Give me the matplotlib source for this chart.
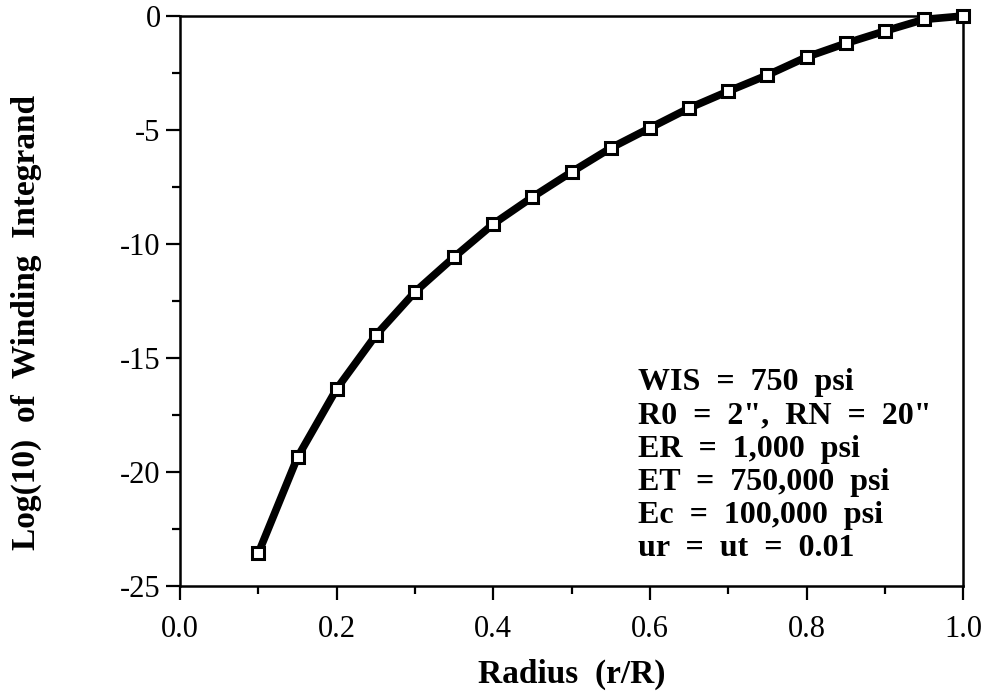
import matplotlib
matplotlib.use("Agg")
import matplotlib.pyplot as plt
from matplotlib.ticker import MultipleLocator

# Data
radius = [0.10, 0.15, 0.20, 0.25, 0.30, 0.35, 0.40, 0.45, 0.50, 0.55,
          0.60, 0.65, 0.70, 0.75, 0.80, 0.85, 0.90, 0.95, 1.00]
log_integrand = [-23.55, -19.35, -16.35, -14.0, -12.1, -10.57, -9.12, -7.94,
                 -6.84, -5.79, -4.91, -4.04, -3.3, -2.59, -1.8, -1.2,
                 -0.66, -0.15, 0.0]

params_text = ("WIS  =  750  psi\n"
               "R0  =  2\",  RN  =  20\"\n"
               "ER  =  1,000  psi\n"
               "ET  =  750,000  psi\n"
               "Ec  =  100,000  psi\n"
               "ur  =  ut  =  0.01")

plt.rcParams['font.family'] = ['Liberation Serif', 'DejaVu Serif']
plt.rcParams['axes.unicode_minus'] = False

fig = plt.figure(figsize=(9.95, 6.96), dpi=100)
ax = fig.add_axes([0.181, 0.158, 0.787, 0.819])

ax.plot(radius, log_integrand, color='black', linewidth=5.5,
        marker='s', markersize=8, markerfacecolor='white',
        markeredgecolor='black', markeredgewidth=2.2, clip_on=False, zorder=3)

ax.set_xlim(0.0, 1.0)
ax.set_ylim(-25, 0)
ax.xaxis.set_major_locator(MultipleLocator(0.2))
ax.xaxis.set_minor_locator(MultipleLocator(0.1))
ax.yaxis.set_major_locator(MultipleLocator(5))
ax.yaxis.set_minor_locator(MultipleLocator(2.5))
ax.xaxis.set_major_formatter(plt.FormatStrFormatter('%.1f'))

ax.tick_params(which='both', direction='out', top=False, right=False,
               width=1.6, labelsize=22)
ax.tick_params(which='major', length=10)
ax.tick_params(which='minor', length=6)
ax.tick_params(axis='x', which='major', pad=11)
ax.tick_params(axis='y', which='major', pad=4)
for s in ax.spines.values():
    s.set_linewidth(1.8)

ax.set_xlabel('Radius  (r/R)', fontsize=24, fontweight='bold')
ax.set_ylabel('Log(10)  of  Winding  Integrand', fontsize=24,
              fontweight='bold')
ax.xaxis.set_label_coords(0.5, -0.128)
ax.yaxis.set_label_coords(-0.176, 0.463)

ax.text(0.585, 0.04, params_text, transform=ax.transAxes, fontsize=23,
        fontweight='bold', ha='left', va='bottom', linespacing=1.19)

fig.savefig('out.png', dpi=100)
